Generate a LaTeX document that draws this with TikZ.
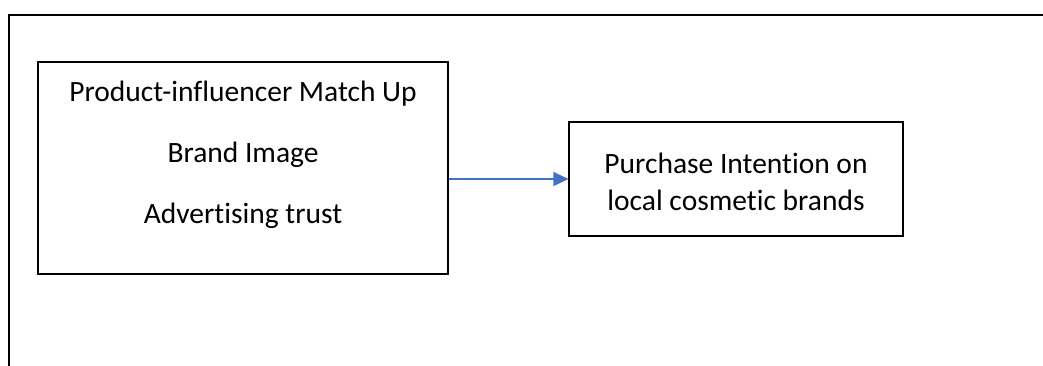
\documentclass[tikz,border=0pt]{standalone}
\usepackage{fontspec}
\setmainfont{Carlito}[Ligatures=NoCommon]
\usepackage{tikz}
\usetikzlibrary{arrows.meta}
\definecolor{linkblue}{HTML}{4472C4}
\tikzstyle{factorbox} = [
  draw,
  rectangle,
  line width=1.1pt,
  inner sep=0pt,
]
\tikzstyle{boxtext} = [
  align=center,
  inner sep=0pt,
  font=\fontsize{29.5}{37.5}\selectfont,
]

\begin{document}
\begin{tikzpicture}[
    x=1pt,
    y=-1pt,
  ]
  \useasboundingbox (0,0) rectangle (1043,365);
  \draw[line width=2pt] (9,366) -- (9,15) -- (1044,15);
  \node[
    boxtext,
    font=\fontsize{29.5}{61}\selectfont,
    anchor=north,
  ](driverstext) at (243,81) {Product-influencer Match Up\\Brand Image\\Advertising trust};
  \node[
    factorbox,
    minimum width=410pt,
    minimum height=212pt,
  ](drivers) at (243,168) {};
  \node[
    factorbox,
    minimum width=334pt,
    minimum height=114pt,
  ](intention) at (736,179) {};
  \node[
    boxtext,
  ](intentiontext) at ([yshift=-3pt]intention.center) {Purchase Intention on\\local cosmetic brands};
  \draw [-{Triangle[length=15pt,width=14pt]}, linkblue, line width=1.2pt]
    (drivers.east |- intention.west) -- (intention.west);
\end{tikzpicture}
\end{document}
